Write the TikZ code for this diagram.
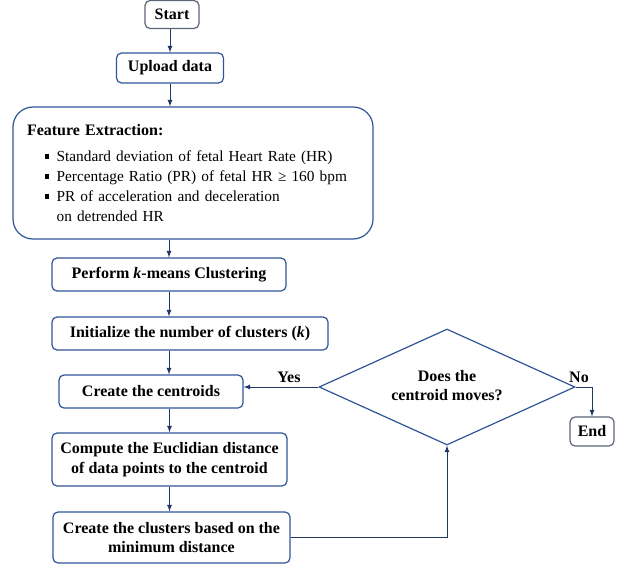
\documentclass[tikz,border=0pt]{standalone}
\usepackage{fontspec}
\setmainfont{Liberation Serif}
\usepackage{tikz}
\usetikzlibrary{shapes.geometric}
\newdimen\pxu \pxu=0.75pt
\newcommand{\sqbul}{\rule[0.35ex]{3.2pt}{3.2pt}}
\definecolor{boxblue}{HTML}{2F5597}
\definecolor{arrnavy}{HTML}{1F3864}
\definecolor{termgray}{HTML}{5B6577}

\begin{document}
\begin{tikzpicture}[x=0.75pt,y=-0.75pt,
    box/.style={draw=boxblue,line width=0.9pt,rounded corners=5\pxu,align=center,
        font=\fontsize{12}{14.5}\selectfont\bfseries,inner sep=0pt},
    term/.style={box,draw=termgray},
    decbox/.style={draw=boxblue,line width=0.9pt,shape=diamond,aspect=2.2,inner sep=0pt,
        align=center,font=\fontsize{12}{14.5}\selectfont\bfseries},
    lbl/.style={font=\fontsize{12}{14.5}\selectfont\bfseries,inner sep=1pt},
    arr/.style={-latex,arrnavy,line width=0.7pt}]
    \useasboundingbox (0,0) rectangle (621,567);
    % main column
    \node[term,minimum width=54\pxu,minimum height=28\pxu] (start) at (172,14.5) {Start};
    \node[box,minimum width=107\pxu,minimum height=30\pxu] (upload) at (170,68) {Upload data};
    \node[box,rounded corners=20\pxu,minimum width=360\pxu,minimum height=132\pxu,
        text width=332\pxu,align=left,font=\fontsize{11.5}{15}\selectfont] (feature) at (193,173)
        {{\fontsize{12}{15}\selectfont\textbf{Feature Extraction:}}\\[4pt]
         \hspace*{13.5pt}\sqbul\hspace{5.5pt}Standard deviation of fetal Heart Rate (HR)\\
         \hspace*{13.5pt}\sqbul\hspace{5.5pt}Percentage Ratio (PR) of fetal HR ≥ 160 bpm\\
         \hspace*{13.5pt}\sqbul\hspace{5.5pt}PR of acceleration and deceleration\\
         \hspace*{22.2pt}on detrended HR};
    \node[box,minimum width=234\pxu,minimum height=33\pxu] (perform) at (169,274.5)
        {Perform \textit{k}-means Clustering};
    \node[box,minimum width=276\pxu,minimum height=33\pxu] (init) at (190,333.5)
        {Initialize\ the number of clusters (\textit{k})};
    \node[box,minimum width=184\pxu,minimum height=33\pxu] (centroids) at (151,391.5)
        {Create the centroids};
    \node[box,minimum width=235\pxu,minimum height=53\pxu] (compute) at (169.5,459.5)
        {Compute the Euclidian distance\\of data points to the centroid};
    \node[box,minimum width=237\pxu,minimum height=51\pxu] (clusters) at (171.5,537.5)
        {Create the clusters based on the\\minimum distance};
    % decision and end
    \node[decbox,minimum width=256\pxu,minimum height=116\pxu] (moves) at (447,387)
        {\raisebox{5pt}{\begin{tabular}{@{}c@{}}Does the\\centroid moves?\end{tabular}}};
    \node[term,minimum width=44\pxu,minimum height=29\pxu] (end) at (592,431.5) {End};
    \node[lbl] (yes) at (289,377) {Yes};
    \node[lbl] (no) at (579,377) {No};
    % connectors
    \draw[arr] (upload.north |- start.south) -- (upload.north);
    \draw[arr] (upload.south) -- (upload.south |- feature.north);
    \draw[arr] (perform.north |- feature.south) -- (perform.north);
    \draw[arr] (perform.south) -- (perform.south |- init.north);
    \draw[arr] (perform.south |- init.south) -- (perform.south |- centroids.north);
    \draw[arr] (compute.north |- centroids.south) -- (compute.north);
    \draw[arr] (compute.south) -- (compute.south |- clusters.north);
    \draw[arr] (clusters.east) -| (moves.south);
    \draw[arr] (moves.west) -- (moves.west -| centroids.east);
    \draw[arr] (moves.east) -| (end.north);
\end{tikzpicture}
\end{document}
